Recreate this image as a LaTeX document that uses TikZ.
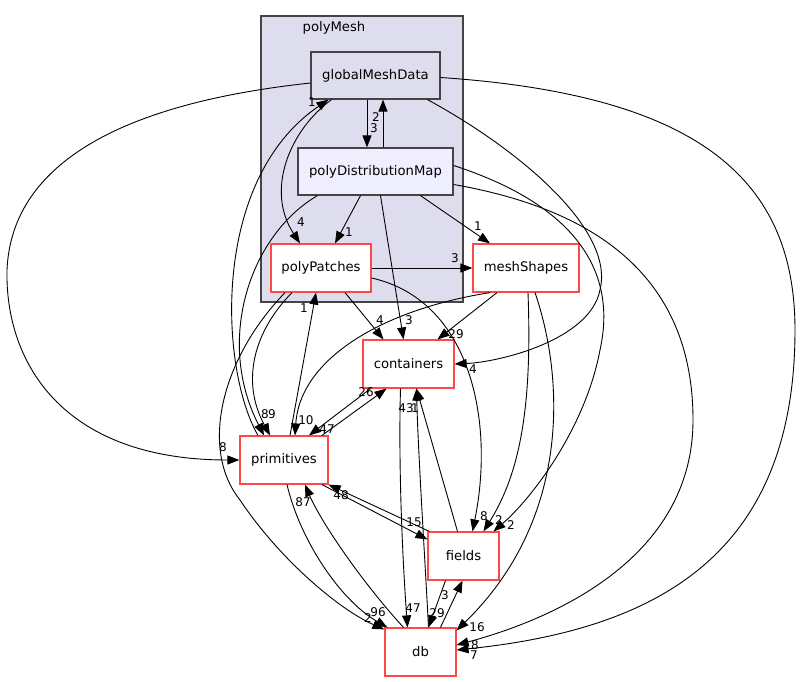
\documentclass[tikz,border=0pt]{standalone}
\usepackage{fontspec}
\setmainfont{DejaVu Sans}
\usetikzlibrary{arrows.meta}
\definecolor{dred}{RGB}{255,72,72}
\definecolor{dgray}{RGB}{68,68,68}
\definecolor{clus}{RGB}{221,221,238}
\definecolor{subfill}{RGB}{238,238,255}

\begin{document}
\begin{tikzpicture}[x=1pt,y=-1pt,
  font=\fontsize{13.2}{15}\selectfont,
  dir/.style={draw=dred,line width=1.2pt,fill=white,minimum width=#1,minimum height=48pt,inner sep=0pt},
  sub/.style={draw=dgray,line width=1.2pt,minimum width=#1,minimum height=47pt,inner sep=0pt},
  dep/.style={-{Triangle[length=12pt,width=9pt]},line width=0.9pt},
  lbl/.style={font=\fontsize{12}{12}\selectfont,inner sep=0pt}]
\useasboundingbox (0,0) rectangle (801,681);

% ---------- cluster polyMesh ----------
\node[draw=dgray,line width=1.2pt,fill=clus,minimum width=202pt,minimum height=286pt] (mesh) at (362,159) {};
\node (meshttl) at (334,28) {polyMesh};
\node[sub=129pt,fill=clus] (gmd) at (375.5,75.5) {globalMeshData};
\node[sub=155pt,fill=subfill] (pdm) at (375.5,171.5) {polyDistributionMap};
\node[dir=100pt] (pp) at (321,268) {polyPatches};

% ---------- other directories ----------
\node[dir=106pt] (ms) at (526,268) {meshShapes};
\node[dir=91pt] (cont) at (408.5,364) {containers};
\node[dir=88pt] (prim) at (284,460) {primitives};
\node[dir=71pt] (fields) at (463.5,556) {fields};
\node[dir=71pt] (db) at (420.5,652) {db};

% ---------- dependencies ----------
\draw[dep] ([xshift=-8.5pt]gmd.south) -- ([xshift=-8.5pt]pdm.north);
\draw[dep] ([xshift=7.5pt]pdm.north) -- ([xshift=7.5pt]gmd.south);
\draw[dep] ([xshift=-44pt]gmd.south) .. controls (290,130) and (265,190) .. ([xshift=-21pt]pp.north);
\draw[dep] ([xshift=-26pt]prim.north) .. controls (220,370) and (210,180) .. ([xshift=-47pt]gmd.south);
\draw[dep] ([xshift=-15pt]pdm.south) -- ([xshift=14pt]pp.north);
\draw[dep] ([xshift=45pt]pdm.south) -- ([xshift=-36pt]ms.north);
\draw[dep] (pp.east) -- (ms.west);
\draw[dep] ([xshift=24pt]pp.south) -- ([xshift=-25pt]cont.north);
\draw[dep] ([xshift=5pt]pdm.south) -- ([xshift=-5pt]cont.north);
\draw[dep] ([xshift=-29pt]ms.south) -- ([xshift=29pt]cont.north);
\draw[dep] ([xshift=52pt]gmd.south) .. controls (520,150) and (615,230) .. (600,290)
  .. controls (590,340) and (500,362) .. (cont.east);
\draw[dep] ([xshift=-36pt]ms.south) .. controls (380,310) and (300,360) .. ([xshift=11pt]prim.north);
\draw[dep] ([xshift=-38pt]cont.south) -- ([xshift=25pt]prim.north);
\draw[dep] ([xshift=38pt]prim.north) -- ([xshift=-22pt]cont.south);
\draw[dep] ([xshift=6pt]prim.north) -- ([xshift=-5pt]pp.south);
\draw[dep] ([xshift=-58pt]pdm.south) .. controls (250,235) and (215,340) .. ([xshift=-20pt]prim.north);
\draw[dep] ([xshift=-29pt]pp.south) .. controls (255,330) and (240,380) .. ([xshift=-14pt]prim.north);
\draw[dep] ([xshift=-36pt]pp.south) .. controls (220,360) and (200,450) .. (240,500)
  .. controls (280,560) and (340,610) .. ([yshift=-2pt]db.north west);
\draw[dep] ([xshift=3pt]prim.south) .. controls (300,540) and (340,600) .. ([xshift=3pt]db.north west);
\draw[dep] ([xshift=-17pt]db.north) .. controls (360,580) and (320,520) .. ([xshift=21pt]prim.south);
\draw[dep] ([xshift=38pt]prim.south) -- ([yshift=-8pt]fields.north west);
\draw[dep] ([xshift=2pt]fields.north west) -- (prim.south east);
\draw[dep] ([xshift=-8pt]cont.south) .. controls (398,480) and (404,580) .. ([xshift=-13pt]db.north);
\draw[dep] ([xshift=8pt]db.north) .. controls (425,560) and (418,450) .. ([xshift=8pt]cont.south);
\draw[dep] ([xshift=-6pt]fields.north) -- ([xshift=8pt]cont.south);
\draw[dep] ([xshift=-18pt]fields.south) -- ([xshift=8pt]db.north);
\draw[dep] ([xshift=20pt]db.north) -- ([xshift=-1pt]fields.south);
\draw[dep] ([yshift=-10pt]pp.east) .. controls (470,300) and (495,420) .. ([xshift=9pt]fields.north);
\draw[dep] ([xshift=2pt]ms.south) .. controls (532,400) and (522,470) .. ([xshift=20pt]fields.north);
\draw[dep] ([yshift=6pt]pdm.east) .. controls (560,200) and (620,260) .. (600,350)
  .. controls (585,430) and (530,500) .. ([xshift=30pt]fields.north);
\draw[dep] ([xshift=9pt]ms.south) .. controls (565,380) and (570,520) .. ([yshift=-3pt]db.north east);
\draw[dep] ([yshift=-13pt]pdm.east) .. controls (600,210) and (693,280) .. (693,420)
  .. controls (693,560) and (550,620) .. ([yshift=7pt]db.east);
\draw[dep] ([yshift=-2pt]gmd.east) .. controls (700,95) and (795,180) .. (795,330)
  .. controls (795,560) and (650,630) .. ([yshift=2pt]db.east);
\draw[dep] ([yshift=-7.5pt]gmd.west) .. controls (60,110) and (10,200) .. (7,270)
  .. controls (5,360) and (60,460) .. (prim.west);

% ---------- counts ----------
\node[lbl] (c1) at (374,128) {3};
\node[lbl] (c2) at (376,117) {2};
\node[lbl] (c3) at (301,222) {4};
\node[lbl] (c4) at (312,102) {1};
\node[lbl] (c5) at (349,232) {1};
\node[lbl] (c6) at (478,226) {1};
\node[lbl] (c7) at (455,258) {3};
\node[lbl] (c8) at (380,320) {4};
\node[lbl] (c9) at (409,320) {3};
\node[lbl] (c10) at (456,334) {29};
\node[lbl] (c11) at (473,369) {4};
\node[lbl] (c12) at (306,420) {10};
\node[lbl] (c13) at (327,429) {47};
\node[lbl] (c14) at (366,392) {26};
\node[lbl] (c15) at (304,308) {1};
\node[lbl] (c16) at (265,414) {8};
\node[lbl] (c17) at (272,414) {9};
\node[lbl] (c18) at (368,618) {2};
\node[lbl] (c19) at (378,612) {96};
\node[lbl] (c20) at (303,502) {87};
\node[lbl] (c21) at (414,522) {15};
\node[lbl] (c22) at (341,495) {48};
\node[lbl] (c23) at (413,608) {47};
\node[lbl] (c24) at (406,408) {43};
\node[lbl] (c25) at (415,408) {1};
\node[lbl] (c26) at (437,613) {29};
\node[lbl] (c27) at (445,595) {3};
\node[lbl] (c28) at (484,516) {8};
\node[lbl] (c29) at (499,520) {2};
\node[lbl] (c30) at (511,525) {2};
\node[lbl] (c31) at (477,627) {16};
\node[lbl] (c32) at (475,645) {8};
\node[lbl] (c33) at (474,655) {7};
\node[lbl] (c34) at (223,447) {8};
\end{tikzpicture}
\end{document}
